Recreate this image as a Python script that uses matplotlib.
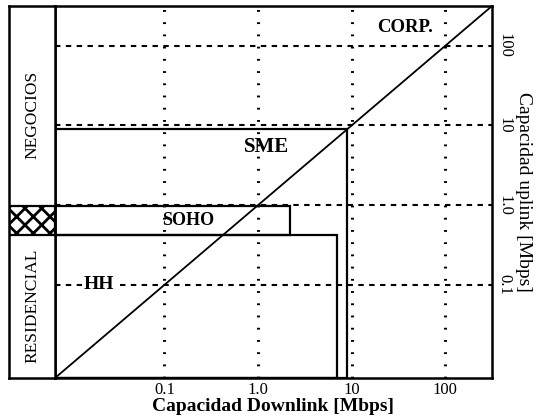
import numpy as np
import matplotlib.pyplot as plt
from matplotlib.patches import Rectangle

plt.rcParams['font.family'] = ['Liberation Serif', 'DejaVu Serif']
plt.rcParams['hatch.linewidth'] = 2.0

# capacity classes: (name, downlink max, uplink max) in Mbps
classes = ['HH', 'SOHO', 'SME']
down_max = [6.9, 2.2, 9.0]
up_max = [0.42, 0.97, 9.0]
up_min = [None, 0.42, None]

decades = [0.1, 1.0, 10, 100]
x_ticklabels = ['0.1', '1.0', '10', '100']
y_ticklabels = ['0.1', '1.0', '10', '100']

lo, hi = 0.0068, 315.0

# segment labels on the left strip
segments = ['RESIDENCIAL', 'NEGOCIOS']

W, H = 543, 418
fig = plt.figure(figsize=(W / 100, H / 100), dpi=100)

def px_axes(x0, y0, x1, y1):
    return fig.add_axes([x0 / W, 1 - y1 / H, (x1 - x0) / W, (y1 - y0) / H])

ax = px_axes(55, 6, 492, 378)
ax.set_xscale('log')
ax.set_yscale('log')
ax.set_xlim(lo, hi)
ax.set_ylim(lo, hi)
ax.minorticks_off()

# grid: dotted verticals, dashed horizontals
for d in decades:
    ax.axvline(d, color='black', lw=2.2, ls=(0, (0.6, 3.4)), zorder=1)
    ax.axhline(d, color='black', lw=1.5, ls=(0, (2.6, 2.6)), zorder=1)

# y = x boundary
ax.plot([lo, hi], [lo, hi], color='black', lw=1.3, zorder=3)

# HH box
ax.add_patch(Rectangle((lo, lo), down_max[0] - lo, up_max[0] - lo,
                       fill=False, ec='black', lw=1.6, zorder=2))
# SOHO box
ax.add_patch(Rectangle((lo, up_min[1]), down_max[1] - lo, up_max[1] - up_min[1],
                       fill=False, ec='black', lw=1.6, zorder=2))
# SME box
ax.add_patch(Rectangle((lo, lo), down_max[2] - lo, up_max[2] - lo,
                       fill=False, ec='black', lw=1.6, zorder=2))

lab = dict(fontweight='bold', ha='center', va='center', zorder=4)
ax.text(37, 170, 'CORP.', fontsize=13.5, **lab)
ax.text(1.23, 5.3, 'SME', fontsize=15, **lab)
ax.text(0.18, 0.64, 'SOHO', fontsize=13, **lab)
ax.text(0.020, 0.1, 'HH', fontsize=14, bbox=dict(fc='white', ec='none', pad=1), **lab)

ax.set_xticks(decades)
ax.set_xticklabels(x_ticklabels, fontsize=12)
ax.set_yticks(decades)
ax.set_yticklabels(y_ticklabels, fontsize=12, rotation=-90, va='center')
ax.yaxis.tick_right()
ax.yaxis.set_label_position('right')
ax.tick_params(length=0, pad=3)
ax.set_xlabel('Capacidad Downlink [Mbps]', fontsize=14, fontweight='bold', labelpad=0)
ax.set_ylabel('Capacidad uplink [Mbps]', fontsize=14, rotation=-90, labelpad=14)
for s in ax.spines.values():
    s.set_linewidth(1.8)

# left strip with market segments
sx = px_axes(9, 6, 55, 378)
sx.set_yscale('log')
sx.set_ylim(lo, hi)
sx.set_xlim(0, 1)
sx.set_xticks([])
sx.set_yticks([])
sx.minorticks_off()
for s in sx.spines.values():
    s.set_linewidth(1.8)
sx.add_patch(Rectangle((0, up_min[1]), 1, up_max[1] - up_min[1],
                       fc='white', ec='black', hatch='xx', lw=1.6))
sx.text(0.5, 0.054, segments[0], rotation=90,
        ha='center', va='center', fontsize=12.5)
sx.text(0.5, 13.4, segments[1], rotation=90, ha='center', va='center', fontsize=12.5)

fig.savefig('out.png', dpi=100)
